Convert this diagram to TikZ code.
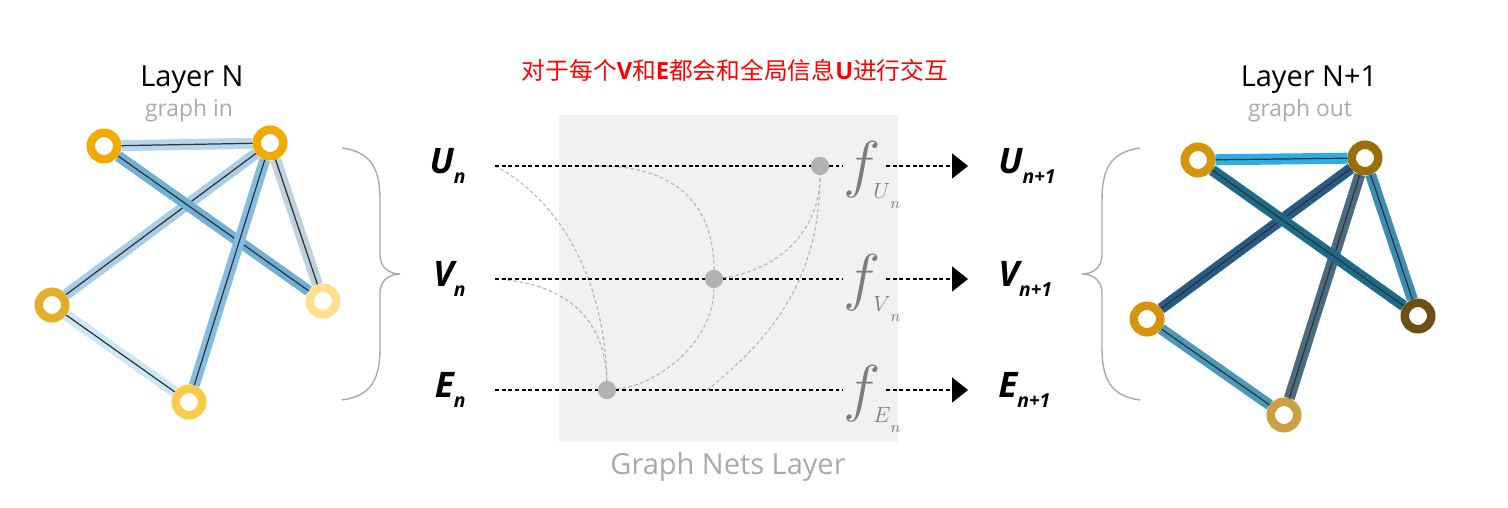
\RequirePackage{fix-cm}
\documentclass[tikz,border=0pt]{standalone}
\usepackage{fontspec}
\setmainfont{Open Sans}
\newfontfamily\cjk{Noto Sans CJK SC}
\usepackage{tikz}
\usetikzlibrary{arrows.meta,positioning,calc}
\definecolor{gnred}{RGB}{255,0,0}
\definecolor{gngray}{RGB}{170,170,170}
\definecolor{gnbox}{RGB}{241,241,241}
\definecolor{gndot}{RGB}{178,178,178}
\definecolor{gnfunc}{RGB}{125,125,125}
% graph in: rings and links
\definecolor{inA}{RGB}{242,172,0}
\definecolor{inB}{RGB}{242,170,0}
\definecolor{inC}{RGB}{227,174,43}
\definecolor{inD}{RGB}{255,224,143}
\definecolor{inE}{RGB}{255,201,74}
\definecolor{inAB}{RGB}{181,214,235}
\definecolor{inAD}{RGB}{111,176,214}
\definecolor{inBC}{RGB}{169,205,231}
\definecolor{inBE}{RGB}{133,189,224}
\definecolor{inBD}{RGB}{189,209,222}
\definecolor{inCE}{RGB}{204,232,247}
% graph out: rings and links
\definecolor{outA}{RGB}{212,149,10}
\definecolor{outB}{RGB}{154,110,8}
\definecolor{outC}{RGB}{212,149,10}
\definecolor{outD}{RGB}{107,79,20}
\definecolor{outE}{RGB}{203,160,67}
\definecolor{outAB}{RGB}{43,174,230}
\definecolor{outAD}{RGB}{28,106,140}
\definecolor{outBC}{RGB}{36,92,135}
\definecolor{outBE}{RGB}{75,108,128}
\definecolor{outBD}{RGB}{60,141,179}
\definecolor{outCE}{RGB}{74,153,186}
\newcommand{\gnvar}[2]{#1\raisebox{-6pt}{\fontsize{11}{11}\selectfont #2}}
\newcommand{\gnsub}[1]{$#1$\raisebox{-0.2cm}{\fontsize{9}{9}\selectfont$n$}}

\begin{document}
\begin{tikzpicture}[
  ring/.style={circle, draw=#1, line width=0.17cm, fill=white, minimum size=0.53cm, inner sep=0pt},
  link/.style={draw=#1, line width=0.22cm, postaction={draw=black!80, line width=0.7pt}},
  flow/.style={black, line width=0.9pt, dash pattern=on 2.2pt off 1.6pt},
  mix/.style={gndot, line width=0.6pt, dash pattern=on 2pt off 1.5pt},
  fdot/.style={circle, fill=gndot, minimum size=0.36cm, inner sep=0pt},
  var/.style={font=\fontsize{20}{20}\selectfont\bfseries\itshape, inner sep=0pt},
  fbig/.style={text=gnfunc, font=\fontsize{36}{36}\selectfont, inner sep=0pt, anchor=base west},
  fsub/.style={text=gnfunc, font=\fontsize{12.5}{12.5}\selectfont, inner sep=0pt, anchor=base west}
]
  \useasboundingbox (0,0) rectangle (30.16,10.16);

  % Title
  \node[font=\fontsize{13.5}{15}\selectfont, text=gnred] (title) at (14.70,8.76)
    {{\cjk 对于每个}\textbf{V}{\cjk 和}\textbf{E}{\cjk 都会和全局信息}\textbf{U}{\cjk 进行交互}};

  % Graph in
  \node[font=\fontsize{16.5}{18}\selectfont, anchor=base] (layin) at (3.84,8.42) {Layer N};
  \node[font=\fontsize{13}{15}\selectfont, text=gngray, anchor=base] (grin) at (3.78,7.82) {graph in};
  \node[ring=inA] (ia) at (2.08,7.24) {};
  \node[ring=inB] (ib) at (5.40,7.30) {};
  \node[ring=inC] (ic) at (1.04,4.06) {};
  \node[ring=inD] (id) at (6.46,4.14) {};
  \node[ring=inE] (ie) at (3.78,2.12) {};
  \draw[link=inCE] (ic) -- (ie);
  \draw[link=inBC] (ib) -- (ic);
  \draw[link=inAB] (ia) -- (ib);
  \draw[link=inBD] (ib) -- (id);
  \draw[link=inAD] (ia) -- (id);
  \draw[link=inBE] (ib) -- (ie);

  % Braces
  \draw[gngray, line width=0.8pt] (6.84,7.20) .. controls (7.44,7.12) and (7.60,6.76) .. (7.60,6.16)
    -- (7.60,5.06) .. controls (7.60,4.80) and (7.80,4.68) .. (8.00,4.68)
    .. controls (7.80,4.68) and (7.60,4.56) .. (7.60,4.30) -- (7.60,3.20)
    .. controls (7.60,2.60) and (7.44,2.24) .. (6.84,2.16);
  \begin{scope}[xshift=29.64cm, xscale=-1]
    \draw[gngray, line width=0.8pt] (6.84,7.20) .. controls (7.44,7.12) and (7.60,6.76) .. (7.60,6.16)
      -- (7.60,5.06) .. controls (7.60,4.80) and (7.80,4.68) .. (8.00,4.68)
      .. controls (7.80,4.68) and (7.60,4.56) .. (7.60,4.30) -- (7.60,3.20)
      .. controls (7.60,2.60) and (7.44,2.24) .. (6.84,2.16);
  \end{scope}

  % Graph Nets layer
  \fill[gnbox] (11.18,1.32) rectangle (17.96,7.86);
  \node[font=\fontsize{16.5}{18}\selectfont, text=gngray, anchor=base] (gnl) at (14.56,0.66) {Graph Nets Layer};

  \node[var, anchor=east] (un) at (9.32,6.84) {\gnvar{U}{n}};
  \node[var, anchor=east] (vn) at (9.32,4.58) {\gnvar{V}{n}};
  \node[var, anchor=east] (en) at (9.32,2.36) {\gnvar{E}{n}};
  \node[var, anchor=west] (un1) at (19.96,6.84) {\gnvar{U}{n+1}};
  \node[var, anchor=west] (vn1) at (19.96,4.58) {\gnvar{V}{n+1}};
  \node[var, anchor=west] (en1) at (19.96,2.36) {\gnvar{E}{n+1}};

  \node[fbig] (fu) at (16.86,6.44) {$f$};
  \node[fbig] (fv) at (16.86,4.18) {$f$};
  \node[fbig] (fe) at (16.86,1.96) {$f$};
  \node[fsub] (fus) at (17.46,6.18) {\gnsub{U}};
  \node[fsub] (fvs) at (17.46,3.92) {\gnsub{V}};
  \node[fsub] (fes) at (17.46,1.70) {\gnsub{E}};

  \node[fdot] (du) at (16.40,6.84) {};
  \node[fdot] (dv) at (14.28,4.58) {};
  \node[fdot] (de) at (12.14,2.36) {};
  \coordinate (u0) at (9.90,6.84);
  \coordinate (v0) at (9.90,4.58);
  \coordinate (u1) at (12.00,6.84);
  \coordinate (e1) at (14.14,2.36);

  % mixing paths
  \draw[mix] (u0) .. controls (11.20,6.16) and (12.10,4.56) .. (de);
  \draw[mix] (v0) .. controls (11.10,4.52) and (12.10,3.96) .. (de);
  \draw[mix] (u1) .. controls (13.40,6.84) and (14.28,6.16) .. (dv);
  \draw[mix] (de) .. controls (13.20,2.46) and (14.28,3.36) .. (dv);
  \draw[mix] (dv) .. controls (15.60,4.76) and (16.40,5.56) .. (du);
  \draw[mix] (e1) .. controls (15.40,3.36) and (16.40,4.56) .. (du);

  % flows
  \foreach \a/\f/\b in {un/fu/un1, vn/fv/vn1, en/fe/en1} {
    \draw[flow, shorten <=0.58cm] (\a.east) -- (\a.east -| \f.west);
    \draw[flow, shorten <=0.1cm, shorten >=0.6cm, -{Triangle[width=0.5cm,length=0.32cm]}] (\a.east -| \f.east) -- (\b.west);
  }
  \node[fdot] at (du) {};
  \node[fdot] at (dv) {};
  \node[fdot] at (de) {};

  % Graph out
  \node[font=\fontsize{16.5}{18}\selectfont, anchor=base] (layout) at (26.18,8.42) {Layer N+1};
  \node[font=\fontsize{13}{15}\selectfont, text=gngray, anchor=base] (grout) at (26.00,7.82) {graph out};
  \node[ring=outA] (oa) at (23.96,6.96) {};
  \node[ring=outB] (ob) at (27.30,7.00) {};
  \node[ring=outC] (oc) at (22.94,3.78) {};
  \node[ring=outD] (od) at (28.36,3.84) {};
  \node[ring=outE] (oe) at (25.68,1.86) {};
  \draw[link=outCE] (oc) -- (oe);
  \draw[link=outBE] (ob) -- (oe);
  \draw[link=outBC] (ob) -- (oc);
  \draw[link=outAD] (oa) -- (od);
  \draw[link=outBD] (ob) -- (od);
  \draw[link=outAB] (oa) -- (ob);
\end{tikzpicture}
\end{document}
